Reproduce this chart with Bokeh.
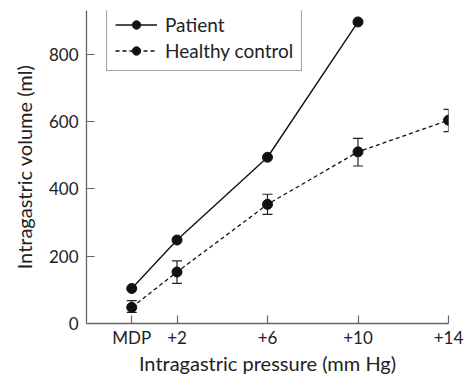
from bokeh.plotting import figure
from bokeh.models import ColumnDataSource, Whisker, TeeHead, Legend, LegendItem, FixedTicker, Range1d
from bokeh.embed import file_html
from bokeh.resources import INLINE

# Data
pressure_labels = ["MDP", "+2", "+6", "+10", "+14"]
pressure_pos = [0, 2, 6, 10, 14]
patient_x = [0, 2, 6, 10]
patient_vol = [104, 248, 494, 896]
control_x = [0, 2, 6, 10, 14]
control_vol = [48, 153, 354, 510, 604]
control_lower = [33, 119, 324, 468, 570]
control_upper = [68, 186, 384, 550, 636]

FONT = "Lato"
TXT = "#222222"

p = figure(width=470, height=377, output_backend="svg", toolbar_location=None,
           x_range=Range1d(-2, 14), y_range=Range1d(0, 930),
           min_border_left=86, min_border_right=22, min_border_top=10, min_border_bottom=54)
p.outline_line_color = None
p.grid.grid_line_color = None
p.background_fill_color = "white"

src_p = ColumnDataSource(dict(x=patient_x, y=patient_vol))
src_c = ColumnDataSource(dict(x=control_x, y=control_vol, lo=control_lower, hi=control_upper))

w = Whisker(source=src_c, base="x", lower="lo", upper="hi", line_color="#222222", line_width=1.2,
            upper_head=TeeHead(size=10, line_color="#222222", line_width=1.2),
            lower_head=TeeHead(size=10, line_color="#222222", line_width=1.2))
p.add_layout(w)

lp = p.line("x", "y", source=src_p, line_color="#111111", line_width=1.4)
sp = p.scatter("x", "y", source=src_p, size=10, fill_color="#111111", line_color="#111111")
lc = p.line("x", "y", source=src_c, line_color="#111111", line_width=1.3, line_dash="4 3")
sc = p.scatter("x", "y", source=src_c, size=10, fill_color="#111111", line_color="#111111")

# Axes
p.xaxis.ticker = FixedTicker(ticks=pressure_pos)
p.xaxis.major_label_overrides = {pos: lab for pos, lab in zip(pressure_pos, pressure_labels)}
p.yaxis.ticker = FixedTicker(ticks=[0, 200, 400, 600, 800])
p.xaxis.axis_label = "Intragastric pressure (mm Hg)"
p.yaxis.axis_label = "Intragastric volume (ml)"
for ax in (p.xaxis[0], p.yaxis[0]):
    ax.axis_line_color = "#666666"
    ax.axis_line_width = 1.3
    ax.major_tick_line_color = "#666666"
    ax.major_tick_line_width = 1.2
    ax.major_tick_in = 8
    ax.major_tick_out = 0
    ax.minor_tick_line_color = None
    ax.major_label_text_font = FONT
    ax.major_label_text_font_size = "17px"
    ax.major_label_text_color = TXT
    ax.axis_label_text_font = FONT
    ax.axis_label_text_font_size = "20px"
    ax.axis_label_text_font_style = "normal"
    ax.axis_label_text_color = TXT
p.xaxis.major_label_standoff = 3
p.xaxis.axis_label_standoff = 0
p.yaxis.major_label_standoff = 8
p.yaxis.axis_label_standoff = 10

legend = Legend(items=[LegendItem(label="Patient", renderers=[lp, sp]),
                       LegendItem(label="Healthy control", renderers=[lc, sc])],
                location=(20, 252))
legend.border_line_color = "#444444"
legend.border_line_width = 1
legend.label_text_font = FONT
legend.label_text_font_size = "19px"
legend.label_text_color = TXT
legend.glyph_width = 42
legend.glyph_height = 21
legend.spacing = 3
legend.padding = 8
legend.margin = 0
legend.label_standoff = 8
p.add_layout(legend)

open("out.html", "w").write(file_html(p, INLINE))
